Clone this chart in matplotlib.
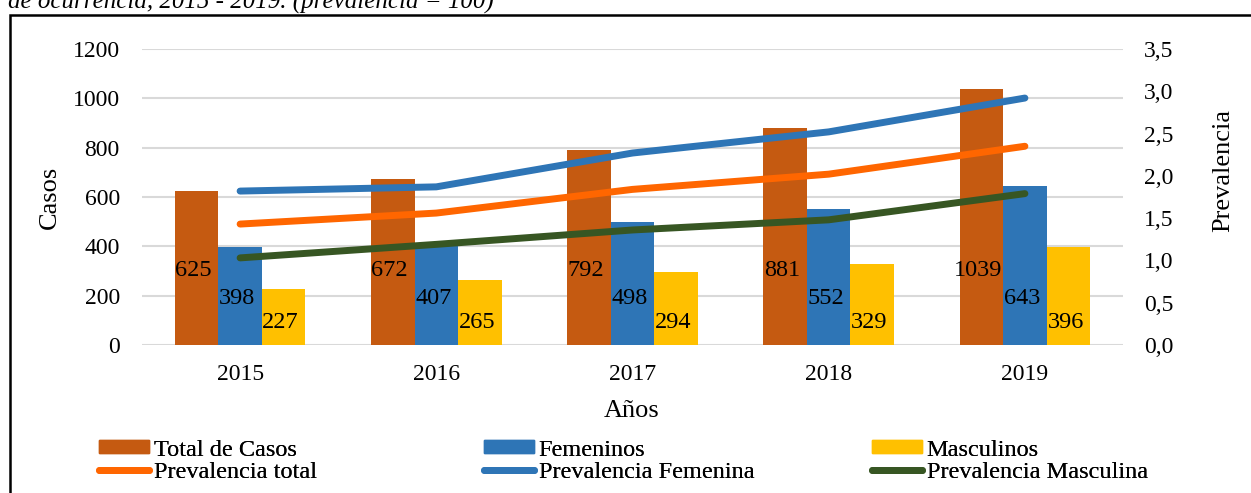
import matplotlib
matplotlib.use('Agg')
import matplotlib.pyplot as plt
from matplotlib.patches import Rectangle
from matplotlib.lines import Line2D
import numpy as np

plt.rcParams['font.family'] = ['Liberation Serif', 'DejaVu Serif']

years = ['2015', '2016', '2017', '2018', '2019']
total_casos = [625, 672, 792, 881, 1039]
femeninos = [398, 407, 498, 552, 643]
masculinos = [227, 265, 294, 329, 396]
prev_total = [1.43, 1.56, 1.84, 2.02, 2.35]
prev_fem = [1.82, 1.87, 2.27, 2.52, 2.92]
prev_masc = [1.03, 1.19, 1.36, 1.48, 1.79]

c_total = '#C55A11'
c_fem = '#2E75B6'
c_masc = '#FFC000'
c_ptotal = '#FF6600'
c_pfem = '#2E75B6'
c_pmasc = '#375623'

W, H = 1251, 493
fig = plt.figure(figsize=(W / 100, H / 100), dpi=100)


def fx(px):
    return px / W


def fy(py):
    return 1 - py / H


# caption cut at the top of the image and the frame
fig.text(fx(8), fy(9), 'de ocurrencia, 2015 - 2019. (prevalencia = 100)',
         fontsize=18, style='italic', va='baseline', ha='left')
fig.patches.append(Rectangle((fx(10), -0.1), 1.2, fy(15) + 0.1,
                             transform=fig.transFigure, fill=False,
                             edgecolor='black', linewidth=1.8, clip_on=False))

ax = fig.add_axes([fx(142), fy(345), fx(1123 - 142), (345 - 49) / H])
ax2 = ax.twinx()

x = np.arange(len(years))
bw = 0.222
b1 = ax.bar(x - bw, total_casos, bw, color=c_total, zorder=2)
b2 = ax.bar(x, femeninos, bw, color=c_fem, zorder=2)
b3 = ax.bar(x + bw, masculinos, bw, color=c_masc, zorder=2)

label_y = [300, 190, 93]
for bars, vals, ly in zip([b1, b2, b3], [total_casos, femeninos, masculinos], label_y):
    for rect, v in zip(bars, vals):
        ax.text(rect.get_x() + rect.get_width() / 2 - 0.015, ly, str(v),
                ha='center', va='center', fontsize=17.5, zorder=3)

for vals, col in [(prev_total, c_ptotal), (prev_fem, c_pfem), (prev_masc, c_pmasc)]:
    ax2.plot(x, vals, color=col, linewidth=5, solid_capstyle='round',
             solid_joinstyle='round', zorder=4)

ax.set_xlim(-0.5, 4.5)
ax.set_ylim(0, 1200)
ax.set_yticks(range(0, 1201, 200))
ax2.set_ylim(0, 3.5)
ax2.set_yticks(np.arange(0, 3.51, 0.5))
ax2.set_yticklabels([('%.1f' % v).replace('.', ',') for v in np.arange(0, 3.51, 0.5)])
ax.set_xticks(x)
ax.set_xticklabels(years)

ax.grid(axis='y', color='#D9D9D9', linewidth=1.5, zorder=0)
ax.set_axisbelow(True)
for a in (ax, ax2):
    for s in a.spines.values():
        s.set_visible(False)
    a.tick_params(length=0, labelsize=17)
ax.tick_params(axis='y', pad=16)
ax2.tick_params(axis='y', pad=15)
ax.tick_params(axis='x', pad=14)
ax2.patch.set_visible(False)

fig.text(fx(50), fy(197), 'Casos', rotation=90, fontsize=19, ha='center', va='center')
fig.text(fx(1223), fy(170), 'Prevalencia', rotation=90, fontsize=19, ha='center', va='center')
fig.text(fx(632), fy(411), 'Años', fontsize=19, ha='center', va='center')

# legend: two rows, three columns, entries placed one by one
handles = [Rectangle((0, 0), 1, 1, color=c_total),
           Rectangle((0, 0), 1, 1, color=c_fem),
           Rectangle((0, 0), 1, 1, color=c_masc),
           Line2D([], [], color=c_ptotal, linewidth=5, solid_capstyle='round'),
           Line2D([], [], color=c_pfem, linewidth=5, solid_capstyle='round'),
           Line2D([], [], color=c_pmasc, linewidth=5, solid_capstyle='round')]
labels = ['Total de Casos', 'Femeninos', 'Masculinos',
          'Prevalencia total', 'Prevalencia Femenina', 'Prevalencia Masculina']
col_x = [99, 484, 872]
row_y = [450, 472]
for i, (h, lab) in enumerate(zip(handles, labels)):
    leg = fig.legend([h], [lab], loc='center left',
                     bbox_to_anchor=(fx(col_x[i % 3]), fy(row_y[i // 3])),
                     frameon=False, fontsize=17.5, handlelength=2.05,
                     handleheight=0.45, handletextpad=0.2, borderpad=0,
                     borderaxespad=0)
    fig.add_artist(leg)

fig.savefig('out.png', dpi=100)
